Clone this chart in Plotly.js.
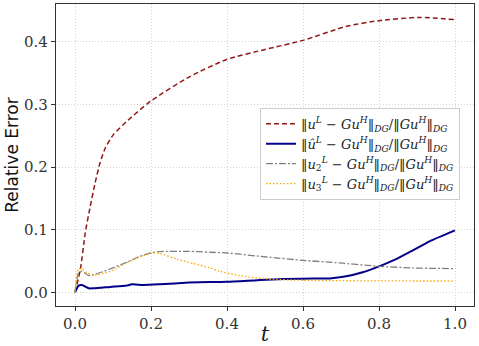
<!DOCTYPE html>
<html><head><meta charset="utf-8">
<script src="https://cdn.plot.ly/plotly-3.0.1.min.js"></script>
<style>html,body{margin:0;padding:0;background:#fff}#c{width:479px;height:346px}</style>
</head><body><div id="c"></div>
<script>
const tRed = [0, 0.014, 0.027, 0.04, 0.053, 0.066, 0.08, 0.101, 0.136, 0.198, 0.303, 0.399, 0.5, 0.6, 0.714, 0.8, 0.906, 1.0];
const vRed = [0, 0.036, 0.095, 0.137, 0.175, 0.207, 0.231, 0.252, 0.273, 0.305, 0.345, 0.372, 0.388, 0.4026, 0.425, 0.434, 0.4393, 0.4356];
const tBlue = [0, 0.0095, 0.018, 0.036, 0.049, 0.093, 0.136, 0.15, 0.18, 0.224, 0.3, 0.355, 0.4, 0.504, 0.6, 0.67, 0.714, 0.757, 0.8, 0.845, 0.889, 0.933, 1.0];
const vBlue = [0, 0.0107, 0.0117, 0.0064, 0.0064, 0.0086, 0.0107, 0.0128, 0.0117, 0.0128, 0.0155, 0.0166, 0.0167, 0.0202, 0.0218, 0.0222, 0.0256, 0.032, 0.0415, 0.053, 0.067, 0.0815, 0.099];
const tGray = [0, 0.0095, 0.018, 0.036, 0.049, 0.093, 0.136, 0.171, 0.2, 0.224, 0.3, 0.355, 0.4, 0.504, 0.6, 0.696, 0.8, 0.889, 1.0];
const vGray = [0, 0.031, 0.0335, 0.0267, 0.028, 0.0373, 0.048, 0.0575, 0.063, 0.065, 0.0655, 0.064, 0.0628, 0.0564, 0.0511, 0.0469, 0.0415, 0.0389, 0.0378];
const tOrange = [0, 0.0095, 0.018, 0.032, 0.049, 0.093, 0.136, 0.18, 0.206, 0.224, 0.268, 0.311, 0.355, 0.381, 0.434, 0.504, 0.6, 0.696, 0.8, 1.0];
const vOrange = [0, 0.0373, 0.0373, 0.031, 0.0272, 0.0336, 0.047, 0.0586, 0.063, 0.0618, 0.053, 0.046, 0.039, 0.0335, 0.0266, 0.0213, 0.0192, 0.0186, 0.0182, 0.018];
const names = [
  "‖<i>u</i><sup><i>L</i></sup> − <i>Gu</i><sup><i>H</i></sup>‖<sub><i>DG</i></sub>/‖<i>Gu</i><sup><i>H</i></sup>‖<sub><i>DG</i></sub>",
  "‖<i>û</i><sup><i>L</i></sup> − <i>Gu</i><sup><i>H</i></sup>‖<sub><i>DG</i></sub>/‖<i>Gu</i><sup><i>H</i></sup>‖<sub><i>DG</i></sub>",
  "‖<i>u</i><sub>2</sub><sup><i>L</i></sup> − <i>Gu</i><sup><i>H</i></sup>‖<sub><i>DG</i></sub>/‖<i>Gu</i><sup><i>H</i></sup>‖<sub><i>DG</i></sub>",
  "‖<i>u</i><sub>3</sub><sup><i>L</i></sup> − <i>Gu</i><sup><i>H</i></sup>‖<sub><i>DG</i></sub>/‖<i>Gu</i><sup><i>H</i></sup>‖<sub><i>DG</i></sub>"
];
const xTicks = [0, 0.2, 0.4, 0.6, 0.8, 1.0];
const yTicks = [0, 0.1, 0.2, 0.3, 0.4];

const sp = {shape: 'spline', smoothing: 0.6};
const data = [
  {x: tRed, y: vRed, name: names[0], mode: 'lines', line: Object.assign({color: '#921818', width: 1.5, dash: '5px,3px'}, sp)},
  {x: tBlue, y: vBlue, name: names[1], mode: 'lines', line: Object.assign({color: '#00008b', width: 2}, sp)},
  {x: tGray, y: vGray, name: names[2], mode: 'lines', line: Object.assign({color: '#808080', width: 1.3, dash: '7px,2px,2px,2px'}, sp)},
  {x: tOrange, y: vOrange, name: names[3], mode: 'lines', line: Object.assign({color: '#ffa500', width: 1.3, dash: '1.5px,2px'}, sp)}
];
const serif = '"DejaVu Serif", "Liberation Serif", serif';
const layout = {
  width: 479, height: 346,
  margin: {l: 56, r: 5, t: 4, b: 40},
  paper_bgcolor: '#fff', plot_bgcolor: '#fff',
  font: {family: serif},
  showlegend: true,
  hovermode: false,
  xaxis: {
    range: [-0.05, 1.05], tickvals: xTicks, ticktext: xTicks.map(v => v.toFixed(1)),
    showline: true, mirror: true, linecolor: '#333', linewidth: 1.2,
    ticks: 'outside', ticklen: 4, tickcolor: '#333',
    showgrid: true, gridcolor: '#d4d4d4', griddash: '1px,2px', gridwidth: 1,
    zeroline: false,
    tickfont: {family: serif, size: 15, color: '#333'},
    title: {text: '<i>t</i>', font: {family: serif, size: 21, color: '#222'}, standoff: 2}
  },
  yaxis: {
    range: [-0.0219, 0.4607], tickvals: yTicks, ticktext: yTicks.map(v => v.toFixed(1)),
    showline: true, mirror: true, linecolor: '#333', linewidth: 1.2,
    ticks: 'outside', ticklen: 4, tickcolor: '#333',
    showgrid: true, gridcolor: '#d4d4d4', griddash: '1px,2px', gridwidth: 1,
    zeroline: false,
    tickfont: {family: serif, size: 15, color: '#333'},
    title: {text: 'Relative Error', font: {family: '"DejaVu Sans", sans-serif', size: 17, color: '#111'}, standoff: 1}
  },
  legend: {
    x: 0.488, y: 0.656, xanchor: 'left', yanchor: 'top',
    bgcolor: 'rgba(255,255,255,0.85)', bordercolor: '#cccccc', borderwidth: 1,
    font: {family: serif, size: 13, color: '#222'},
    itemwidth: 30, tracegroupgap: 0
  }
};
Plotly.newPlot('c', data, layout, {staticPlot: true, displayModeBar: false});
</script>
</body></html>
